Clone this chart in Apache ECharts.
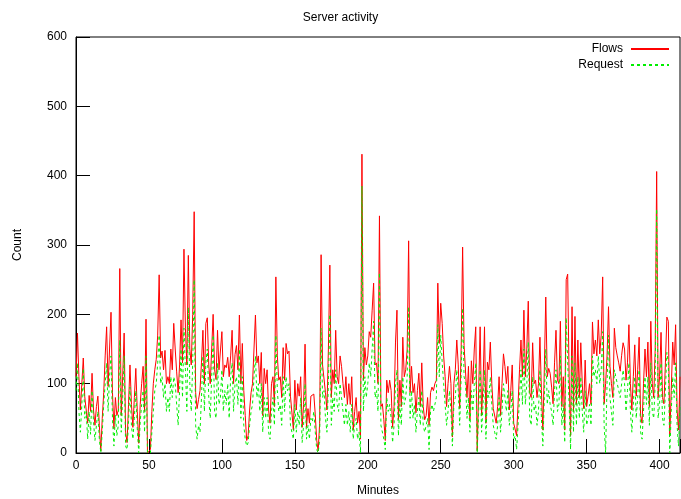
<!DOCTYPE html>
<html>
<head>
<meta charset="utf-8">
<script src="https://cdn.jsdelivr.net/npm/echarts@6/dist/echarts.min.js"></script>
<style>
html,body{margin:0;padding:0;background:#fff;}
#chart{width:681px;height:499px;}
</style>
</head>
<body>
<div id="chart"></div>
<script>
var titleText = "Server activity";
var seriesNames = ["Flows", "Request"];
var xTicks = [0, 50, 100, 150, 200, 250, 300, 350, 400];
var yTicks = [0, 100, 200, 300, 400, 500, 600];

var flows = [
110,173,110,62,100,137,81,80,43,83,
60,115,62,40,67,82,40,3,50,87,
140,182,96,150,203,87,35,80,54,62,
266,54,110,173,30,15,70,127,70,37,
80,122,60,14,70,100,125,60,193,0,
0,5,60,100,120,135,170,257,137,147,
120,148,100,110,100,150,120,187,150,117,
87,127,192,130,294,180,127,285,150,127,
200,348,87,64,77,90,130,177,100,187,
195,127,100,150,200,120,106,177,120,120,
175,110,127,123,138,110,140,177,100,142,
155,120,199,100,158,90,54,18,25,62,
87,100,150,199,130,140,100,145,54,122,
100,120,62,43,100,110,67,254,140,105,
110,80,152,105,158,143,147,82,58,33,
105,62,100,82,110,37,70,157,37,64,
43,82,80,85,55,18,3,43,286,127,
127,87,62,150,271,80,120,100,177,110,
100,140,125,100,80,110,70,100,70,110,
33,60,80,43,60,20,431,105,152,127,
140,175,167,206,245,127,130,100,342,67,
71,48,18,105,87,105,90,37,67,160,
206,48,105,67,167,110,120,150,306,87,
125,87,100,58,90,115,67,130,67,48,
54,80,40,87,95,90,100,105,245,158,
216,187,140,110,67,100,125,100,23,100,
120,163,127,64,150,297,155,155,80,125,
48,133,100,150,182,3,90,182,54,100,
182,43,131,120,160,100,64,62,43,67,
110,54,100,143,125,100,125,62,90,127,
43,45,25,70,120,163,110,206,110,150,
219,87,80,159,100,105,80,100,167,90,
33,120,225,110,122,115,95,71,130,177,
105,100,190,67,110,33,250,258,110,25,
211,60,197,70,163,80,159,100,64,134,
67,82,100,70,189,143,163,140,192,143,
170,254,71,100,140,211,125,100,80,180,
152,140,130,118,141,159,150,105,130,185,
100,62,110,156,82,120,167,54,43,100,
150,110,160,67,190,100,80,150,406,80,
110,174,80,71,130,196,190,25,90,160,
127,185,62,33,110
];

var requests = [
90,130,60,30,70,122,50,60,20,60,
27,90,45,18,40,60,20,0,30,70,
100,130,60,110,140,50,10,55,25,40,
163,30,80,140,10,5,45,95,40,20,
50,90,35,0,45,70,90,30,140,0,
0,0,30,60,90,100,130,170,100,110,
80,100,60,80,60,110,80,110,100,70,
40,90,150,80,180,120,60,210,100,60,
130,250,40,20,40,30,80,140,60,130,
150,80,50,110,170,60,50,130,70,80,
120,60,90,70,100,50,110,130,60,100,
110,70,150,50,110,40,20,10,15,40,
60,70,110,140,80,100,60,100,30,80,
50,80,30,20,60,80,40,170,90,60,
70,40,110,60,110,90,100,40,30,20,
70,30,60,40,80,15,40,100,20,40,
20,50,45,60,30,5,0,20,180,80,
90,50,30,100,200,40,80,60,120,70,
60,100,80,60,40,70,40,60,30,70,
20,40,50,20,30,0,385,60,110,80,
100,130,110,150,190,80,90,60,260,40,
40,20,5,80,60,70,50,15,40,100,
120,25,70,40,110,70,80,110,211,50,
90,50,70,30,60,80,40,90,40,30,
30,50,5,60,70,60,70,80,185,110,
170,130,100,70,40,60,90,60,10,70,
80,120,90,40,110,209,110,100,50,80,
30,90,60,100,130,0,60,120,30,70,
120,20,90,80,110,70,40,30,20,40,
80,30,60,100,80,60,90,40,60,90,
20,25,5,40,80,120,70,150,70,100,
160,50,40,110,60,70,40,60,120,50,
10,80,150,70,90,70,60,40,90,120,
60,70,140,40,70,15,195,195,70,5,
140,30,130,40,110,50,110,60,30,90,
40,50,70,40,140,110,120,100,140,100,
120,175,40,0,100,170,80,60,40,120,
110,100,90,80,100,120,100,60,90,130,
60,30,70,110,50,80,120,30,20,60,
110,70,110,40,130,60,50,100,352,50,
70,130,50,40,90,145,130,0,60,110,
80,130,40,10,70
];

var FONT = "'Liberation Sans', Arial, sans-serif";
var xMax = flows.length - 1;
var TICK = 7;
function pairs(arr){ return arr.map(function(v,i){ return [i, v]; }); }
function inList(list){ return function(v){ return list.indexOf(v) >= 0 ? String(v) : ''; }; }
// decoration axes: shifted into the plot by the tick length, ticks pointing outward onto the frame
function tickAxis(pos, max, interval){
  return {
    type:'value', min:0, max:max, interval:interval, position:pos, offset:-TICK,
    axisLine:{show:false},
    axisTick:{show:true, length:TICK, lineStyle:{color:'#000', width:1}},
    axisLabel:{show:false}, splitLine:{show:false}
  };
}

var chart = echarts.init(document.getElementById('chart'), null, {renderer:'canvas'});
chart.setOption({
  animation:false,
  backgroundColor:'#fff',
  title:{text:titleText, left:'center', top:7, textStyle:{fontFamily:FONT, fontSize:12, fontWeight:'normal', color:'#000'}},
  legend:{
    orient:'vertical', right:11, top:43, align:'right', padding:0,
    itemWidth:38, itemHeight:10, itemGap:4,
    itemStyle:{opacity:0, color:'transparent', borderWidth:0},
    textStyle:{fontFamily:FONT, fontSize:12, color:'#000', padding:[0,3,0,0]},
    data:seriesNames
  },
  grid:{left:76, right:1, top:37, bottom:46, show:true, borderColor:'#000', borderWidth:1,
        backgroundColor:'transparent', containLabel:false, outerBoundsMode:'none'},
  xAxis:[{
    type:'value', min:0, max:xMax, interval:50, position:'bottom',
    name:'Minutes', nameLocation:'middle', nameGap:32,
    nameTextStyle:{fontFamily:FONT, fontSize:12, color:'#000'},
    axisLine:{show:true, lineStyle:{color:'#000'}},
    axisTick:{show:false},
    axisLabel:{fontFamily:FONT, fontSize:12, color:'#000', margin:7, formatter:inList(xTicks)},
    splitLine:{show:false}
  }, tickAxis('bottom', xMax, 50), tickAxis('top', xMax, 50)],
  yAxis:[{
    type:'value', min:0, max:600, interval:100, position:'left',
    name:'Count', nameLocation:'middle', nameGap:52, nameRotate:90,
    nameTextStyle:{fontFamily:FONT, fontSize:12, color:'#000'},
    axisLine:{show:true, lineStyle:{color:'#000'}},
    axisTick:{show:false},
    axisLabel:{fontFamily:FONT, fontSize:12, color:'#000', margin:9, formatter:inList(yTicks)},
    splitLine:{show:false}
  }, tickAxis('left', 600, 100), tickAxis('right', 600, 100)],
  series:[{
    name:seriesNames[0], type:'line', data:pairs(flows), showSymbol:false, symbol:'none',
    lineStyle:{color:'#ff0000', width:1}, itemStyle:{color:'#ff0000'}, z:2
  },{
    name:seriesNames[1], type:'line', data:pairs(requests), showSymbol:false, symbol:'none',
    lineStyle:{color:'#00ee00', width:1, type:[3,3]}, itemStyle:{color:'#00ee00'}, z:3
  }]
});
</script>
</body>
</html>
